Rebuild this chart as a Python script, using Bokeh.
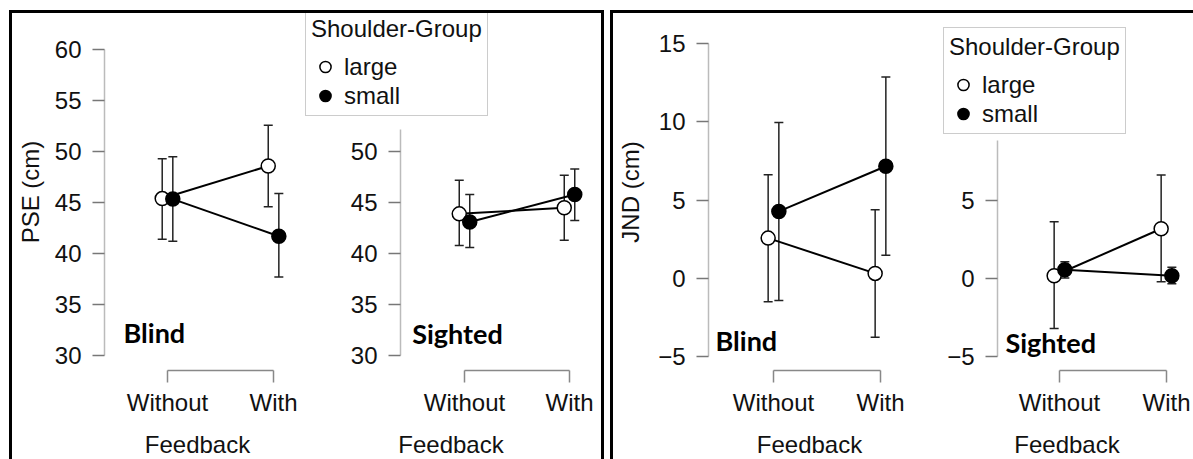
from bokeh.plotting import figure
from bokeh.models import (ColumnDataSource, Range1d, FixedTicker, Whisker, TeeHead,
                          Legend, LegendItem, Label, Div, Spacer)
from bokeh.layouts import row, column
from bokeh.embed import file_html
from bokeh.resources import INLINE

# ---------------- data ----------------
conditions = ["Without", "With"]
groups = ["large", "small"]

pse_yticks = [30, 35, 40, 45, 50, 55, 60]
jnd_yticks = [-5, 0, 5, 10, 15]

# PSE (cm) -- Blind
pse_blind_large = [45.4, 48.6]
pse_blind_large_lo = [41.4, 44.6]
pse_blind_large_hi = [49.3, 52.6]
pse_blind_small = [45.35, 41.7]
pse_blind_small_lo = [41.2, 37.7]
pse_blind_small_hi = [49.5, 45.9]

# PSE (cm) -- Sighted
pse_sighted_large = [43.9, 44.5]
pse_sighted_large_lo = [40.8, 41.3]
pse_sighted_large_hi = [47.2, 47.7]
pse_sighted_small = [43.1, 45.8]
pse_sighted_small_lo = [40.6, 43.25]
pse_sighted_small_hi = [45.8, 48.3]

# JND (cm) -- Blind
jnd_blind_large = [2.56, 0.30]
jnd_blind_large_lo = [-1.52, -3.78]
jnd_blind_large_hi = [6.62, 4.38]
jnd_blind_small = [4.27, 7.16]
jnd_blind_small_lo = [-1.43, 1.47]
jnd_blind_small_hi = [9.96, 12.88]

# JND (cm) -- Sighted
jnd_sighted_large = [0.15, 3.16]
jnd_sighted_large_lo = [-3.22, -0.24]
jnd_sighted_large_hi = [3.61, 6.60]
jnd_sighted_small = [0.53, 0.15]
jnd_sighted_small_lo = [0.0, -0.36]
jnd_sighted_small_hi = [1.04, 0.70]

# ---------------- style ----------------
FONT = "Liberation Sans"
FS = "24px"
DODGE = 0.05
TOP = 0
FRAME_H = 357
BOTTOM = 89
FIG_H = TOP + FRAME_H + BOTTOM  # 446


def subplot(x_range, y_range, yticks, ybounds, frame_w, mb_left, mb_right,
            large, large_lo, large_hi, small, small_lo, small_hi,
            ylabel=None, ylabel_standoff=8, title=None, title_pos=None,
            legend_loc=None, yaxis_at=None):
    p = figure(frame_width=frame_w, frame_height=FRAME_H,
               min_border_left=mb_left, min_border_right=mb_right,
               min_border_top=TOP, min_border_bottom=BOTTOM,
               x_range=Range1d(*x_range), y_range=Range1d(*y_range),
               output_backend="svg", toolbar_location=None,
               background_fill_color="white", border_fill_color="white")
    p.outline_line_color = None
    p.xgrid.visible = False
    p.ygrid.visible = False

    idx = list(range(1, len(conditions) + 1))
    xl = [i - DODGE for i in idx]
    xs = [i + DODGE for i in idx]

    # y axis
    yax = p.yaxis[0]
    if yaxis_at is not None:
        yax.fixed_location = yaxis_at
    yax.ticker = FixedTicker(ticks=[t for t in yticks if ybounds[0] <= t <= ybounds[1]])
    yax.bounds = ybounds
    yax.axis_line_color = "#bbbbbb"
    yax.axis_line_width = 1.5
    yax.major_tick_line_color = "#777777"
    yax.major_tick_line_width = 1.5
    yax.major_tick_out = 12
    yax.major_tick_in = 0
    yax.minor_tick_line_color = None
    yax.major_label_text_font = FONT
    yax.major_label_text_font_size = FS
    yax.major_label_text_color = "#111111"
    yax.major_label_standoff = 11
    if ylabel:
        yax.axis_label = ylabel
        yax.axis_label_text_font = FONT
        yax.axis_label_text_font_size = FS
        yax.axis_label_text_font_style = "normal"
        yax.axis_label_text_color = "#111111"
        yax.axis_label_standoff = ylabel_standoff

    # x axis (bracket between the two conditions)
    xax = p.xaxis[0]
    xax.ticker = FixedTicker(ticks=idx)
    xax.major_label_overrides = {i: c for i, c in zip(idx, conditions)}
    xax.bounds = (idx[0], idx[-1])
    xax.axis_line_color = "#888888"
    xax.axis_line_width = 1.5
    xax.major_tick_line_color = "#888888"
    xax.major_tick_line_width = 1.5
    xax.major_tick_out = 12
    xax.major_tick_in = 0
    xax.minor_tick_line_color = None
    xax.major_label_text_font = FONT
    xax.major_label_text_font_size = FS
    xax.major_label_text_color = "#111111"
    xax.major_label_standoff = 6
    xax.axis_label = "Feedback"
    xax.axis_label_text_font = FONT
    xax.axis_label_text_font_size = FS
    xax.axis_label_text_font_style = "normal"
    xax.axis_label_text_color = "#111111"
    xax.axis_label_standoff = 12

    src_l = ColumnDataSource(dict(x=xl, y=large, lo=large_lo, hi=large_hi))
    src_s = ColumnDataSource(dict(x=xs, y=small, lo=small_lo, hi=small_hi))

    for src in (src_l, src_s):
        w = Whisker(base="x", lower="lo", upper="hi", source=src,
                    line_color="#222222", line_width=1.5,
                    upper_head=TeeHead(size=9, line_color="#222222", line_width=1.5),
                    lower_head=TeeHead(size=9, line_color="#222222", line_width=1.5))
        p.add_layout(w)

    p.line("x", "y", source=src_l, line_color="black", line_width=2)
    p.line("x", "y", source=src_s, line_color="black", line_width=2)
    r_l = p.scatter("x", "y", source=src_l, marker="circle", size=14,
                    fill_color="white", line_color="black", line_width=1.5)
    r_s = p.scatter("x", "y", source=src_s, marker="circle", size=14,
                    fill_color="black", line_color="black", line_width=1.5)

    if title:
        p.add_layout(Label(x=title_pos[0], y=title_pos[1], text=title,
                           text_font="Lato", text_font_style="bold",
                           text_font_size="27px", text_color="black",
                           text_baseline="middle", text_align="left"))

    if legend_loc is not None:
        leg = Legend(items=[LegendItem(label=groups[0], renderers=[r_l]),
                            LegendItem(label=groups[1], renderers=[r_s])],
                     location=legend_loc, title="Shoulder-Group")
        leg.title_text_font = FONT
        leg.title_text_font_size = FS
        leg.title_text_font_style = "normal"
        leg.title_text_color = "#111111"
        leg.title_standoff = 9
        leg.label_text_font = FONT
        leg.label_text_font_size = FS
        leg.label_text_color = "#111111"
        leg.label_standoff = 5
        leg.glyph_width = 28
        leg.glyph_height = 29
        leg.label_height = 26
        leg.spacing = 0
        leg.padding = 5
        leg.margin = 0
        leg.border_line_color = "#999999"
        leg.border_line_width = 1
        leg.background_fill_color = "white"
        leg.background_fill_alpha = 1.0
        p.add_layout(leg, "center")
    return p


# left panel: PSE  (10.19 px per cm, 105-106 px per condition step)
pse_y = (28.528, 63.562)
bl = subplot((0.4057, 2.160), pse_y, pse_yticks, (30, 60), 186, 92, 10,
             pse_blind_large, pse_blind_large_lo, pse_blind_large_hi,
             pse_blind_small, pse_blind_small_lo, pse_blind_small_hi,
             ylabel="PSE (cm)", ylabel_standoff=8,
             title="Blind", title_pos=(0.585, 32.26))
sl = subplot((-0.5143, 2.2571), pse_y, pse_yticks, (30, 52.2), 291, 5, 5,
             pse_sighted_large, pse_sighted_large_lo, pse_sighted_large_hi,
             pse_sighted_small, pse_sighted_small_lo, pse_sighted_small_hi,
             title="Sighted", title_pos=(0.502, 32.13), legend_loc=(0, 254),
             yaxis_at=0.3905)

# right panel: JND  (15.62 px per cm, 107 px per condition step)
jnd_y = (-5.9155, 16.940)
br = subplot((0.3925, 2.2804), jnd_y, jnd_yticks, (-5, 15), 202, 95, 10,
             jnd_blind_large, jnd_blind_large_lo, jnd_blind_large_hi,
             jnd_blind_small, jnd_blind_small_lo, jnd_blind_small_hi,
             ylabel="JND (cm)", ylabel_standoff=11,
             title="Blind", title_pos=(0.458, -3.995))
sr = subplot((-0.0841, 2.2243), jnd_y, jnd_yticks, (-5, 8.81), 247, 23, 3,
             jnd_sighted_large, jnd_sighted_large_lo, jnd_sighted_large_hi,
             jnd_sighted_small, jnd_sighted_small_lo, jnd_sighted_small_hi,
             title="Sighted", title_pos=(0.495, -4.103), legend_loc=(0, 236),
             yaxis_at=0.4206)


def bar(w, h):
    return Div(text="", width=w, height=h, margin=0,
               styles={"background-color": "black"})


left_panel = row(bar(3, FIG_H + 3), column(bar(589, 3), row(bl, sl)), bar(3, FIG_H + 3))
right_panel = row(bar(3, FIG_H + 3), column(bar(580, 3), row(br, sr)))
layout = column(Spacer(width=1, height=10, margin=0),
                row(Spacer(width=9, height=1, margin=0), left_panel,
                    Spacer(width=6, height=1, margin=0), right_panel))

open("out.html", "w").write(file_html(layout, INLINE))
